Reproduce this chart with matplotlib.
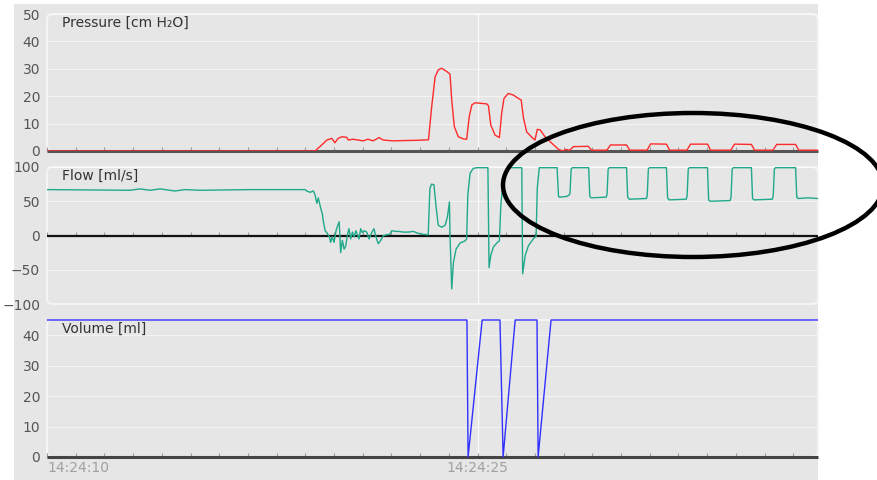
import matplotlib
matplotlib.use("Agg")
import matplotlib.pyplot as plt
from matplotlib.patches import Rectangle, Ellipse, FancyBboxPatch
from matplotlib.transforms import IdentityTransform
from matplotlib.ticker import MultipleLocator

# ---- data: seconds after 14:24:10 -------------------------------------------
pressure_t = [0.00, 9.34, 9.44, 9.57, 9.75, 9.92, 10.03, 10.14, 10.27, 10.44, 10.50,
              10.66, 10.84, 11.01, 11.18, 11.36, 11.57, 11.71, 12.06, 12.40, 12.88,
              13.29, 13.40, 13.52, 13.63, 13.75, 13.93, 14.04, 14.10, 14.19, 14.33,
              14.51, 14.62, 14.71, 14.80, 14.91, 15.32, 15.38, 15.46, 15.61, 15.76,
              15.84, 15.92, 16.07, 16.25, 16.42, 16.52, 16.60, 16.71, 16.89, 17.00,
              17.08, 17.18, 17.35, 17.59, 17.82, 17.98, 18.08, 18.18,
              18.22, 18.34, 18.86, 18.97, 19.48,
              19.51, 19.63, 20.19, 20.30, 20.88,
              20.91, 21.03, 21.58, 21.69, 22.27,
              22.30, 22.42, 23.01, 23.12, 23.80,
              23.83, 23.95, 24.54, 24.65, 25.27,
              25.30, 25.42, 26.08, 26.19, 26.86]
pressure_v = [0.0, 0.0, 1.0, 2.2, 4.0, 4.6, 3.0, 4.6, 5.2, 5.0, 4.0,
              4.3, 4.0, 3.7, 4.3, 3.7, 4.9, 4.0, 3.7, 3.8, 3.9,
              4.1, 16.0, 27.0, 29.6, 30.2, 29.0, 28.0, 18.6, 8.9, 5.2,
              4.4, 4.3, 12.5, 16.8, 17.6, 17.2, 16.5, 9.5, 5.8, 4.9,
              13.8, 19.2, 21.0, 20.4, 19.2, 18.6, 12.0, 7.0, 5.0, 4.0,
              7.9, 7.7, 5.2, 2.8, 0.6, 0.0, 0.6, 0.3,
              0.4, 1.6, 1.7, 0.3, 0.3,
              0.4, 2.2, 2.2, 0.3, 0.3,
              0.4, 2.6, 2.5, 0.3, 0.3,
              0.4, 2.5, 2.5, 0.3, 0.3,
              0.4, 2.5, 2.4, 0.3, 0.3,
              0.4, 2.4, 2.4, 0.3, 0.3]

flow_t = [0.00, 2.89, 3.24, 3.59, 3.94, 4.46, 4.81, 5.33, 7.07, 8.99, 9.05, 9.16,
          9.28, 9.34, 9.40, 9.45, 9.54, 9.59, 9.63, 9.69, 9.75, 9.84, 9.88, 9.94,
          10.00, 10.07, 10.13, 10.18, 10.23, 10.29, 10.35, 10.41, 10.46, 10.52,
          10.58, 10.64, 10.70, 10.76, 10.81, 10.87, 10.93, 10.99, 11.05, 11.14,
          11.22, 11.31, 11.39, 11.46, 11.54, 11.63, 11.72, 11.84, 11.95, 12.01,
          12.13, 12.24, 12.41, 12.59, 12.76, 12.94, 13.06, 13.28, 13.34, 13.40,
          13.48, 13.55, 13.63, 13.75, 13.87, 13.95, 14.02, 14.04, 14.10, 14.16,
          14.25, 14.39, 14.56, 14.62, 14.66, 14.74, 14.85, 14.98, 15.36, 15.40,
          15.46, 15.55, 15.69, 15.76, 15.81, 15.88, 15.99, 16.11, 16.54, 16.57,
          16.66, 16.77, 16.94, 17.04, 17.08, 17.15, 17.77,
          17.82, 17.86, 18.10, 18.19, 18.22, 18.26, 18.30, 18.87,
          18.91, 18.96, 19.48, 19.51, 19.55, 19.59, 20.19,
          20.23, 20.28, 20.88, 20.91, 20.95, 20.99, 21.58,
          21.62, 21.67, 22.27, 22.30, 22.34, 22.38, 23.01,
          23.05, 23.10, 23.80, 23.83, 23.87, 23.91, 24.54,
          24.58, 24.63, 25.27, 25.30, 25.34, 25.38, 26.08,
          26.12, 26.17, 26.50, 26.86]
flow_v = [67, 66, 68, 66, 68, 65, 67, 66, 67, 67, 65, 63,
          65, 59, 47, 55, 39, 32, 20, 7, 4, -2, -10, -2,
          -10, 7, 15, 20, -25, -7, -20, -15, 0, 10,
          -5, 5, -2, 7, 2, -5, 10, 4, 7, 5,
          -5, 4, 10, -2, -12, -7, 0, 1, 2, 7,
          6, 6, 5, 5, 6, 3, 2, 1, 69, 75,
          74, 44, 15, 12, 15, 27, 49, 0, -78, -39,
          -20, -11, -8, -5, 59, 91, 98, 99, 99, -47,
          -29, -17, -10, -8, 44, 74, 93, 99, 99, -56,
          -29, -15, -5, -1, 69, 99, 99,
          57, 56, 57, 59, 62, 97, 99, 99,
          57, 55, 56, 60, 97, 99, 99,
          56, 53, 54, 58, 97, 99, 99,
          55, 52, 53, 58, 97, 99, 99,
          52, 50, 51, 56, 97, 99, 99,
          54, 52, 53, 58, 97, 99, 99,
          56, 54, 55, 54]

volume_t = [0.00, 14.63, 14.67, 15.16, 15.78, 15.89, 16.31, 17.07, 17.11, 17.56, 26.86]
volume_v = [45, 45, 0, 45, 45, 0, 45, 45, 0, 45, 45]

tick_pos = [0, 15]
tick_labels = ["14:24:10", "14:24:25"]

panels = [
    dict(t=pressure_t, v=pressure_v, color="#ff2a2a", title="Pressure [cm H\u2082O]",
         ylim=(0, 50), yticks=[0, 10, 20, 30, 40, 50], zero="#555555", zlw=2.2),
    dict(t=flow_t, v=flow_v, color="#1fa88a", title="Flow [ml/s]",
         ylim=(-100, 100), yticks=[-100, -50, 0, 50, 100], zero="#111111", zlw=1.6),
    dict(t=volume_t, v=volume_v, color="#3030ff", title="Volume [ml]",
         ylim=(0, 45), yticks=[0, 10, 20, 30, 40], zero="#444444", zlw=2.2),
]

W, H = 878, 480
fig = plt.figure(figsize=(W / 100, H / 100), dpi=100)
fig.patch.set_facecolor("white")

# grey canvas behind the three strips
fig.add_artist(Rectangle((14 / W, 0), (818 - 14) / W, (H - 4) / H,
                         transform=fig.transFigure, facecolor="#e6e6e6",
                         edgecolor="none", zorder=-3))

left, right = 47 / W, 818 / W
tops_px = [14, 167, 320]
height_px = 137
x_end = 26.86

axes = []
for i, p in enumerate(panels):
    top = tops_px[i]
    ax = fig.add_axes([left, 1 - (top + height_px) / H, right - left, height_px / H])
    ax.set_facecolor("none")
    ax.set_xlim(0, x_end)
    ax.set_ylim(*p["ylim"])
    ax.set_yticks(p["yticks"])
    for y in p["yticks"]:
        ax.axhline(y, color="white", lw=0.8, alpha=0.55, zorder=1)
    ax.axvline(15, color="white", lw=1.0, alpha=0.8, zorder=1)
    ax.plot(p["t"], p["v"], color=p["color"], lw=1.0, zorder=4,
            clip_on=(i != 2), solid_joinstyle="round", solid_capstyle="butt")
    for s in ["top", "right", "left"]:
        ax.spines[s].set_visible(False)
    ax.spines["bottom"].set_position(("data", 0))
    ax.spines["bottom"].set_color(p["zero"])
    ax.spines["bottom"].set_linewidth(p["zlw"])
    ax.spines["bottom"].set_capstyle("butt")
    ax.spines["bottom"].set_zorder(3)
    ax.set_xticks(tick_pos)
    ax.xaxis.set_minor_locator(MultipleLocator(1))
    ax.tick_params(axis="x", which="both", direction="in", length=3,
                   color="#9a9a9a", width=0.8)
    ax.tick_params(axis="y", length=0, pad=5, labelsize=10, labelcolor="#555555")
    if i == 2:
        ax.set_xticklabels(tick_labels)
        ax.tick_params(axis="x", labelsize=10, labelcolor="#a0a0a0", pad=3)
        ax.get_xticklabels()[0].set_horizontalalignment("left")
    else:
        ax.set_xticklabels([])
    ax.text(0.019, 0.985, p["title"], transform=ax.transAxes, ha="left", va="top",
            fontsize=10, color="#333333", zorder=5)
    axes.append(ax)

# light rounded frame around each plotting area, behind the curves
for ax in axes:
    bb = ax.get_window_extent()
    fig.add_artist(FancyBboxPatch((bb.x0, bb.y0), bb.width, bb.height,
                                  boxstyle="round,pad=0,rounding_size=6",
                                  transform=IdentityTransform(), fill=False,
                                  edgecolor="#f5f5f5", lw=1.4, zorder=-2))

# highlight of the regular breaths
fig.add_artist(Ellipse((693 / W, 1 - 185 / H), 380 / W, 144 / H,
                       transform=fig.transFigure, fill=False,
                       edgecolor="black", lw=3.2, zorder=10))

fig.savefig("out.png", dpi=100)
